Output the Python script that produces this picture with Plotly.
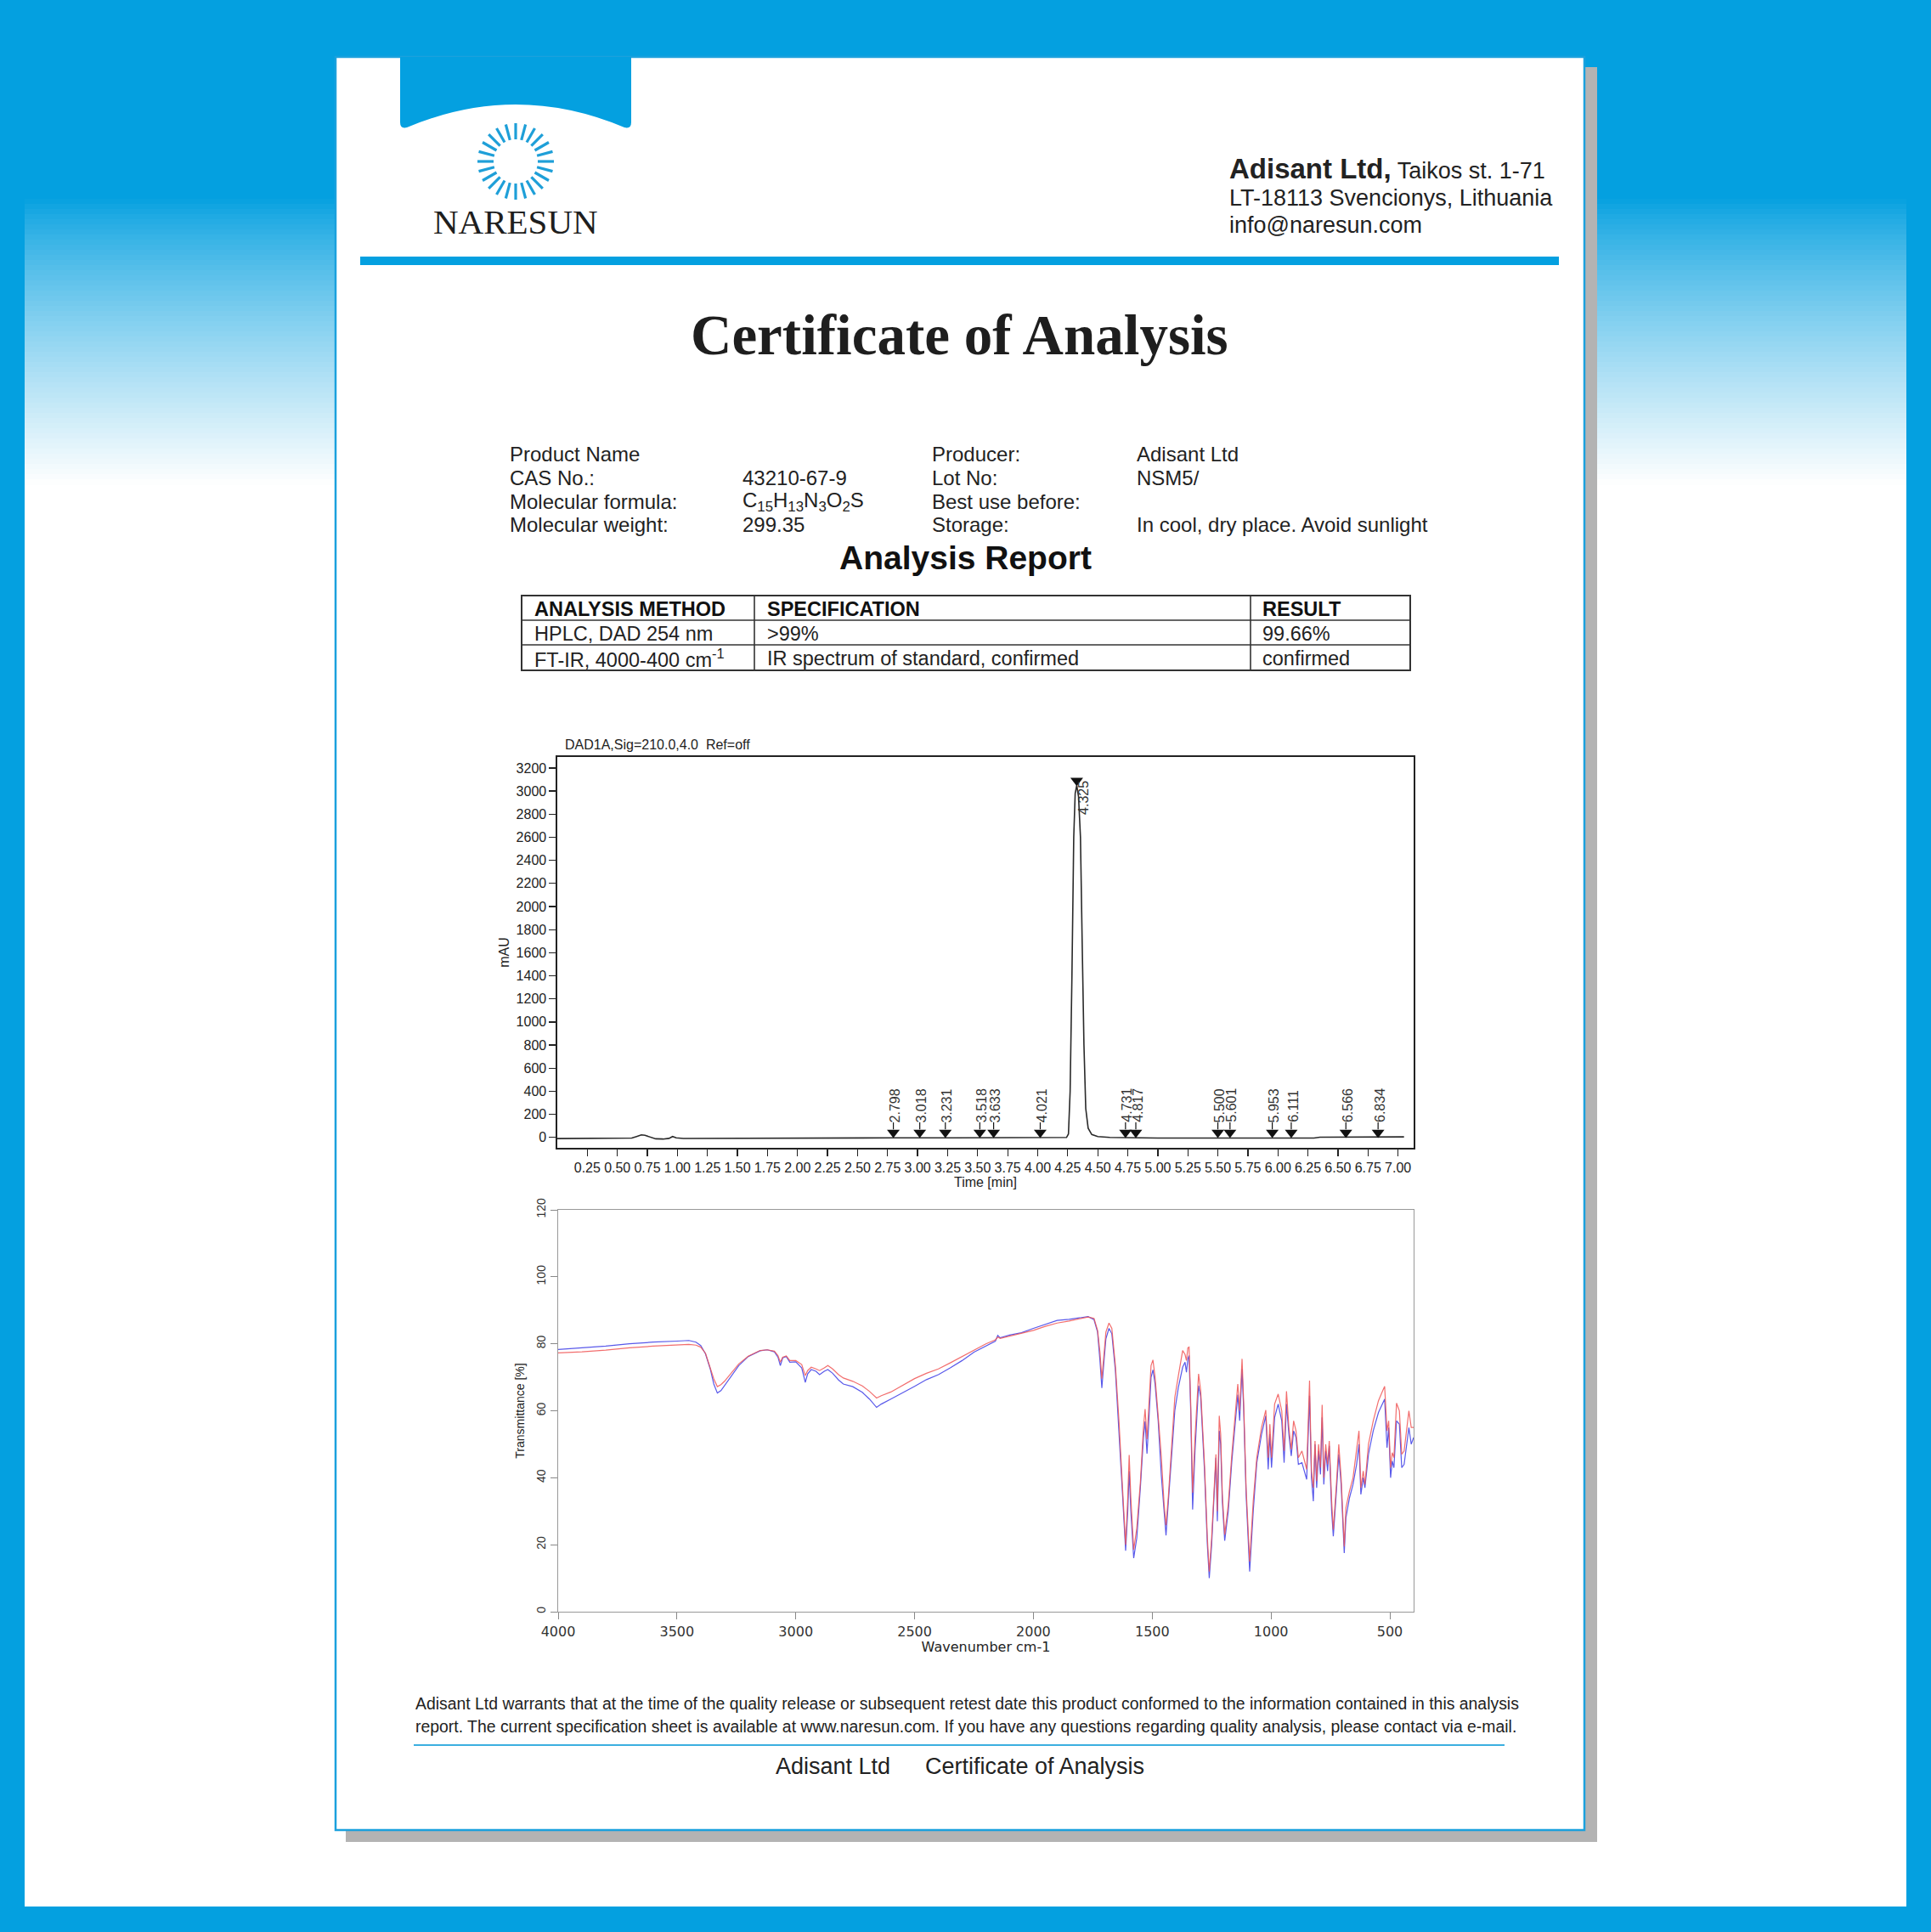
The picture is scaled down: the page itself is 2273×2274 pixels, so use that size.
import math
import plotly.graph_objects as go

W, H = 2273, 2274

# ---------------- data ----------------
product_labels = ["Product Name", "CAS No.:", "Molecular formula:", "Molecular weight:"]
product_values = ["", "43210-67-9",
                  "C<sub>15</sub>H<sub>13</sub>N<sub>3</sub>O<sub>2</sub>S", "299.35"]
producer_labels = ["Producer:", "Lot No:", "Best use before:", "Storage:"]
producer_values = ["Adisant Ltd", "NSM5/", "", "In cool, dry place. Avoid sunlight"]

table_header = ["ANALYSIS METHOD", "SPECIFICATION", "RESULT"]
table_methods = ["HPLC, DAD 254 nm", "FT-IR, 4000-400 cm<sup>-1</sup>"]
table_specs = [">99%", "IR spectrum of standard, confirmed"]
table_results = ["99.66%", "confirmed"]

# HPLC chromatogram (time in min, signal in mAU)
chrom_time = [0.00, 0.30, 0.55, 0.62, 0.66, 0.70, 0.73, 0.77, 0.82, 0.88, 0.93, 0.96,
              0.99, 1.05, 1.50, 2.00, 2.25, 2.30, 2.80, 3.30, 3.80, 4.20, 4.24, 4.256,
              4.27, 4.285, 4.30, 4.312, 4.325, 4.34, 4.356, 4.37, 4.385, 4.40, 4.42,
              4.45, 4.50, 4.60, 4.75, 5.00, 5.50, 6.00, 6.30, 6.35, 6.80, 7.05]
chrom_mau = [-10, -10, -9, -5, 8, 22, 18, 5, -12, -14, -8, 8,
             -4, -9, -9, -9, -9, -4, -4, -3, -3, -2, 0, 30,
             400, 1400, 2600, 2980, 3050, 2950, 2600, 1700, 800, 250, 80,
             25, 8, 0, -3, -5, -5, -5, -5, 2, 3, 5]
peak_rt = [2.798, 3.018, 3.231, 3.518, 3.633, 4.021, 4.731, 4.817,
           5.500, 5.601, 5.953, 6.111, 6.566, 6.834]
main_peak_rt = 4.325
main_peak_mau = 3050
chrom_xticks = [0.25 * i for i in range(1, 29)]
chrom_yticks = list(range(0, 3201, 200))

# FT-IR spectra (wavenumber cm-1, transmittance %)
ir_wavenumber = [4000, 3900, 3800, 3700, 3600, 3500, 3450, 3420, 3400, 3380, 3360, 3345,
                 3330, 3315, 3300, 3270, 3240, 3200, 3150, 3120, 3090, 3075, 3065, 3055,
                 3040, 3025, 3000, 2975, 2960, 2950, 2935, 2915, 2900, 2880, 2865, 2845,
                 2820, 2800, 2760, 2720, 2690, 2660, 2640, 2600, 2550, 2500, 2450, 2400,
                 2350, 2300, 2250, 2200, 2160, 2150, 2140, 2100, 2050, 2000, 1950, 1900,
                 1850, 1800, 1770, 1745, 1730, 1720, 1712, 1704, 1695, 1682, 1670, 1655,
                 1640, 1625, 1612, 1603, 1597, 1590, 1578, 1565, 1550, 1537, 1530, 1522,
                 1515, 1505, 1497, 1488, 1475, 1462, 1450, 1442, 1432, 1420, 1405, 1390,
                 1372, 1362, 1356, 1350, 1345, 1338, 1330, 1320, 1305, 1296, 1280, 1268,
                 1260, 1250, 1240, 1232, 1226, 1218, 1212, 1205, 1195, 1180, 1165, 1150,
                 1140, 1132, 1122, 1115, 1105, 1090, 1075, 1060, 1040, 1022, 1012, 1005,
                 998, 985, 970, 955, 945, 935, 925, 915, 905, 895, 885, 870,
                 860, 850, 838, 830, 822, 815, 808, 800, 792, 785, 778, 770,
                 762, 755, 745, 738, 725, 715, 705, 692, 685, 670, 655, 640,
                 630, 622, 612, 605, 590, 570, 548, 530, 522, 512, 505, 497,
                 490, 483, 472, 460, 450, 440, 430, 420, 410, 400]
ir_blue = [78.3, 78.8, 79.3, 80.0, 80.5, 80.8, 81.0, 80.5, 79.5, 77.0, 72.5, 68.0,
           65.3, 66.0, 67.5, 70.8, 73.5, 76.2, 77.9, 78.2, 77.6, 76.0, 73.5, 75.8,
           76.2, 74.5, 74.6, 72.8, 68.5, 71.0, 72.3, 71.8, 70.8, 71.8, 72.3, 71.2,
           69.2, 68.0, 67.2, 65.5, 63.5, 61.0, 62.0, 63.5, 65.3, 67.3, 69.3, 70.8,
           72.8, 75.0, 77.5, 79.3, 80.8, 82.5, 81.8, 82.6, 83.3, 84.6, 85.8, 87.0,
           87.3, 87.8, 88.1, 87.2, 83.5, 75.0, 66.8, 74.0, 81.5, 84.6, 83.0, 72.0,
           55.0, 35.0, 18.2, 30.0, 42.0, 30.0, 16.0, 22.0, 37.0, 52.0, 56.8, 47.2,
           56.0, 70.0, 72.2, 68.0, 57.0, 41.0, 30.0, 22.8, 33.0, 45.5, 60.0, 67.0,
           73.0, 74.5, 71.5, 75.5, 76.5, 60.0, 30.5, 48.0, 67.5, 64.0, 42.0, 20.0,
           10.0, 20.0, 33.0, 46.0, 27.0, 54.0, 50.0, 33.0, 21.2, 30.0, 45.0, 58.0,
           64.8, 57.0, 72.5, 60.0, 35.0, 12.0, 30.0, 44.5, 53.0, 58.5, 42.5, 53.0,
           43.0, 58.0, 62.0, 57.0, 44.5, 62.0, 53.0, 46.5, 54.0, 52.0, 44.0, 44.5,
           42.0, 39.5, 64.5, 40.0, 33.0, 50.0, 37.0, 48.0, 41.0, 58.0, 38.0, 48.0,
           42.0, 49.5, 30.0, 22.5, 36.0, 47.0, 38.0, 17.5, 28.0, 34.0, 38.0, 44.0,
           50.0, 35.0, 40.0, 37.0, 47.0, 54.0, 59.5, 62.5, 63.5, 49.0, 55.0, 40.0,
           45.0, 43.0, 57.0, 56.0, 43.0, 44.0, 50.0, 55.0, 50.0, 52.0]
ir_red = [77.3, 77.6, 78.1, 78.8, 79.3, 79.6, 79.8, 79.6, 79.0, 77.2, 73.0, 69.5,
          67.2, 67.8, 68.8, 71.5, 74.0, 76.3, 78.0, 78.2, 77.8, 76.5, 74.5, 76.0,
          76.4, 75.0, 75.0, 73.8, 70.5, 72.0, 73.0, 72.5, 72.0, 72.8, 73.5, 72.5,
          70.8, 69.8, 68.8, 67.4, 65.8, 63.8, 64.5, 65.6, 67.5, 69.6, 71.2, 72.5,
          74.3, 76.2, 78.2, 80.0, 81.2, 82.0, 81.6, 82.3, 83.0, 84.0, 85.2, 86.2,
          86.8, 87.5, 88.0, 87.6, 84.0, 77.5, 69.6, 76.0, 83.5, 86.2, 84.6, 73.5,
          57.0, 37.0, 20.0, 34.0, 46.8, 34.0, 18.5, 25.0, 38.5, 55.0, 60.5, 51.5,
          60.0, 73.5, 75.2, 70.0, 58.5, 46.5, 32.0, 25.8, 34.5, 48.0, 64.0, 70.5,
          78.0, 76.8, 75.0, 78.8, 79.0, 62.0, 35.5, 52.0, 71.0, 66.0, 44.0, 22.0,
          12.0, 22.0, 35.0, 47.0, 30.0, 58.5, 53.0, 35.0, 23.0, 32.0, 47.0, 61.0,
          68.0, 60.0, 75.5, 62.0, 37.0, 15.0, 33.0, 46.0, 55.0, 60.2, 46.0, 56.0,
          46.0, 62.0, 65.0, 60.0, 48.0, 65.8, 55.0, 48.5, 57.0, 54.0, 46.0, 48.0,
          45.0, 42.5, 69.0, 42.0, 37.0, 51.0, 39.0, 50.0, 43.0, 61.8, 40.0, 50.0,
          44.0, 51.0, 33.0, 24.5, 38.0, 50.0, 40.0, 19.5, 31.0, 36.0, 40.0, 48.0,
          54.0, 37.0, 42.0, 38.0, 50.0, 57.0, 63.0, 66.0, 67.3, 54.0, 57.0, 43.0,
          47.5, 46.0, 62.3, 60.0, 47.0, 48.0, 54.0, 60.0, 55.0, 55.0]
ir_xticks = [4000, 3500, 3000, 2500, 2000, 1500, 1000, 500]
ir_yticks = [0, 20, 40, 60, 80, 100, 120]

footer_lines = [
    "Adisant Ltd warrants that at the time of the quality release or subsequent retest date this product conformed to the information contained in this analysis",
    "report. The current specification sheet is available at www.naresun.com. If you have any questions regarding quality analysis, please contact via e-mail.",
]

# ---------------- styling helpers ----------------
BLUE = "#04A0E0"
SANS = "Liberation Sans, Arial, sans-serif"
SERIF = "Liberation Serif, Times New Roman, serif"
TXT = "#222222"


def px(x):
    return x / W


def py(y):
    return 1 - y / H


shapes = []
annotations = []


def rect(x0, y0, x1, y1, fill, line=None, lw=0, layer="below"):
    shapes.append(dict(type="rect", xref="paper", yref="paper",
                       x0=px(x0), x1=px(x1), y0=py(y1), y1=py(y0),
                       fillcolor=fill, layer=layer,
                       line=dict(color=line or "rgba(0,0,0,0)", width=lw)))


def seg(x0, y0, x1, y1, color, lw, layer="above"):
    shapes.append(dict(type="line", xref="paper", yref="paper",
                       x0=px(x0), x1=px(x1), y0=py(y0), y1=py(y1),
                       layer=layer, line=dict(color=color, width=lw)))


def txt(x, y, s, size, color=TXT, xanchor="left", family=SANS, textangle=0):
    annotations.append(dict(xref="paper", yref="paper", x=px(x), y=py(y), text=s,
                            showarrow=False, xanchor=xanchor, yanchor="middle",
                            textangle=textangle,
                            font=dict(size=size, color=color, family=family)))


# ---------------- background ----------------
rect(29, 234, 2244, 2244, "white")
n_bands = 56
for i in range(n_bands):
    t = (i + 0.5) / n_bands
    t = t ** 0.8
    r = int(4 + (255 - 4) * t)
    g = int(160 + (255 - 160) * t)
    b = int(224 + (255 - 224) * t)
    y0 = 234 + i * (336 / n_bands)
    rect(29, y0, 2244, y0 + 336 / n_bands + 1, f"rgb({r},{g},{b})")

# page shadow and page
rect(407, 79, 1880, 2168, "#B3B3B3")
rect(395, 67, 1865, 2154, "white", line="#1BA1DD", lw=2.5)

# tab with curved bottom
def P(x, y):
    return f"{px(x):.5f},{py(y):.5f}"

tab_path = ("M " + P(471, 67) + " L " + P(743, 67) + " L " + P(743, 144) +
            " Q " + P(743, 152) + " " + P(735, 150) +
            " Q " + P(607, 96) + " " + P(479, 150) +
            " Q " + P(471, 152) + " " + P(471, 144) + " Z")
shapes.append(dict(type="path", xref="paper", yref="paper", path=tab_path,
                   fillcolor=BLUE, line=dict(width=0), layer="below"))

# sun logo
cx, cy = 607, 190
for k in range(24):
    a = 2 * math.pi * k / 24
    seg(cx + 26 * math.cos(a), cy + 26 * math.sin(a),
        cx + 45 * math.cos(a), cy + 45 * math.sin(a), "#1E9FD8", 3.2)
txt(607, 261, "NARESUN", 41, color="#1E1E1E", xanchor="center", family=SERIF)

# address block
txt(1445, 199, "<b><span style='font-size:33px'>Adisant Ltd,</span></b> Taikos st. 1-71", 27)
txt(1445, 233, "LT-18113 Svencionys, Lithuania", 27)
txt(1445, 265, "info@naresun.com", 27)

# blue rule
rect(424, 302, 1835, 312, BLUE, layer="above")

# title
txt(1129, 394, "<b>Certificate of Analysis</b>", 67, color="#1E1E1E",
    xanchor="center", family=SERIF)

# product info
row_y = [534, 562, 590, 618]
for i in range(4):
    txt(598, row_y[i], product_labels[i], 24)
    if product_values[i]:
        txt(872, row_y[i], product_values[i], 24)
    txt(1095, row_y[i], producer_labels[i], 24)
    if producer_values[i]:
        txt(1336, row_y[i], producer_values[i], 24)

txt(1136, 656, "<b>Analysis Report</b>", 39, color="#111", xanchor="center")

# table
tx0, tx1 = 614, 1660
ty = [701, 730, 759, 789]
col_x = [888, 1472]
rect(tx0, ty[0], tx1, ty[3], "rgba(0,0,0,0)", line="#333", lw=2, layer="above")
for yy in ty[1:3]:
    seg(tx0, yy, tx1, yy, "#333", 1.6)
for xx in col_x:
    seg(xx, ty[0], xx, ty[3], "#333", 1.6)
text_x = [627, 901, 1484]
for j in range(3):
    txt(text_x[j], (ty[0] + ty[1]) / 2 + 1, "<b>" + table_header[j] + "</b>", 23.5, color="#111")
for i in range(2):
    yc = (ty[i + 1] + ty[i + 2]) / 2 + 1
    txt(text_x[0], yc, table_methods[i], 23.5)
    txt(text_x[1], yc, table_specs[i], 23.5)
    txt(text_x[2], yc, table_results[i], 23.5)

# footer
txt(487, 2005, footer_lines[0], 19.4)
txt(487, 2032, footer_lines[1], 19.4)
seg(487, 2054, 1771, 2054, "#3BAFE0", 2)
txt(911, 2079, "Adisant Ltd", 27)
txt(1087, 2079, "Certificate of Analysis", 27)

# chromatogram title
txt(663, 876, "DAD1A,Sig=210.0,4.0  Ref=off", 16)

# ---------------- traces ----------------
fig = go.Figure()

# chromatogram
fig.add_trace(go.Scatter(x=chrom_time, y=chrom_mau, mode="lines",
                         line=dict(color="#2a2a2a", width=1.6),
                         xaxis="x", yaxis="y", showlegend=False, hoverinfo="skip"))
shaft_x, shaft_y = [], []
for t in peak_rt:
    shaft_x += [t, t, None]
    shaft_y += [70, 130, None]
fig.add_trace(go.Scatter(x=shaft_x, y=shaft_y, mode="lines",
                         line=dict(color="#111", width=1.2),
                         xaxis="x", yaxis="y", showlegend=False, hoverinfo="skip"))
fig.add_trace(go.Scatter(x=peak_rt, y=[42] * len(peak_rt), mode="markers",
                         marker=dict(symbol="triangle-down", size=13, color="#111"),
                         xaxis="x", yaxis="y", showlegend=False, hoverinfo="skip"))
fig.add_trace(go.Scatter(x=[main_peak_rt], y=[main_peak_mau + 40], mode="markers",
                         marker=dict(symbol="triangle-down", size=13, color="#111"),
                         xaxis="x", yaxis="y", showlegend=False, hoverinfo="skip"))
for t in peak_rt:
    annotations.append(dict(xref="x", yref="y", x=t + 0.012, y=115, text=f"{t:.3f}",
                            textangle=-90, showarrow=False, xanchor="center",
                            yanchor="bottom", font=dict(size=16, color="#333", family=SANS)))
annotations.append(dict(xref="x", yref="y", x=main_peak_rt + 0.06, y=main_peak_mau - 270,
                        text=f"{main_peak_rt:.3f}", textangle=-90, showarrow=False,
                        xanchor="center", yanchor="bottom",
                        font=dict(size=16, color="#333", family=SANS)))

# IR
fig.add_trace(go.Scatter(x=ir_wavenumber, y=ir_blue, mode="lines",
                         line=dict(color="rgba(60,60,230,0.85)", width=1.2),
                         xaxis="x2", yaxis="y2", showlegend=False, hoverinfo="skip"))
fig.add_trace(go.Scatter(x=ir_wavenumber, y=ir_red, mode="lines",
                         line=dict(color="rgba(240,85,85,0.85)", width=1.2),
                         xaxis="x2", yaxis="y2", showlegend=False, hoverinfo="skip"))

fig.update_layout(
    width=W, height=H, autosize=False,
    margin=dict(l=0, r=0, t=0, b=0, pad=0, autoexpand=False),
    paper_bgcolor=BLUE,
    plot_bgcolor="white",
    showlegend=False,
    font=dict(family=SANS, color=TXT),
    xaxis=dict(domain=[px(656), px(1664)], anchor="y", range=[0, 7.13], automargin=False,
               tickvals=chrom_xticks, ticktext=[f"{v:.2f}" for v in chrom_xticks],
               ticks="outside", ticklen=8, tickwidth=1.3, tickcolor="#222",
               showline=True, linecolor="#222", linewidth=1.6, mirror=True,
               showgrid=False, zeroline=False,
               tickfont=dict(size=16, color="#222"),
               title=dict(text="Time [min]", font=dict(size=16, color="#222"), standoff=2)),
    yaxis=dict(domain=[py(1351), py(891)], anchor="x", range=[-90, 3295], automargin=False,
               tickvals=chrom_yticks, ticks="outside", ticklen=8, tickwidth=1.3,
               tickcolor="#222", showline=True, linecolor="#222", linewidth=1.6,
               mirror=True, showgrid=False, zeroline=False,
               tickfont=dict(size=16, color="#222"),
               title=dict(text="mAU", font=dict(size=16, color="#222"), standoff=4)),
    xaxis2=dict(domain=[px(657), px(1664)], anchor="y2", range=[4000, 400], automargin=False,
                tickvals=ir_xticks, ticks="outside", ticklen=8, tickcolor="#888",
                showline=True, linecolor="#999", linewidth=1.3, mirror=True,
                showgrid=False, zeroline=False,
                tickfont=dict(size=16, color="#333", family="DejaVu Sans, sans-serif"),
                title=dict(text="Wavenumber cm-1", standoff=4,
                           font=dict(size=16, color="#222", family="DejaVu Sans, sans-serif"))),
    yaxis2=dict(domain=[py(1897), py(1424)], anchor="x2", range=[0, 120], automargin=False,
                tickvals=ir_yticks, ticks="outside", ticklen=8, tickcolor="#888",
                tickangle=-90,
                showline=True, linecolor="#999", linewidth=1.3, mirror=True,
                showgrid=False, zeroline=False,
                tickfont=dict(size=14, color="#333"),
                title=dict(text="Transmittance [%]", font=dict(size=14, color="#222"),
                           standoff=8)),
    shapes=shapes,
    annotations=annotations,
)

fig.write_html("out.html",
               config={"displayModeBar": False, "staticPlot": True},
               post_script="document.body.style.margin='0px';"
                           "document.body.style.padding='0px';"
                           "document.documentElement.style.overflow='hidden';")
